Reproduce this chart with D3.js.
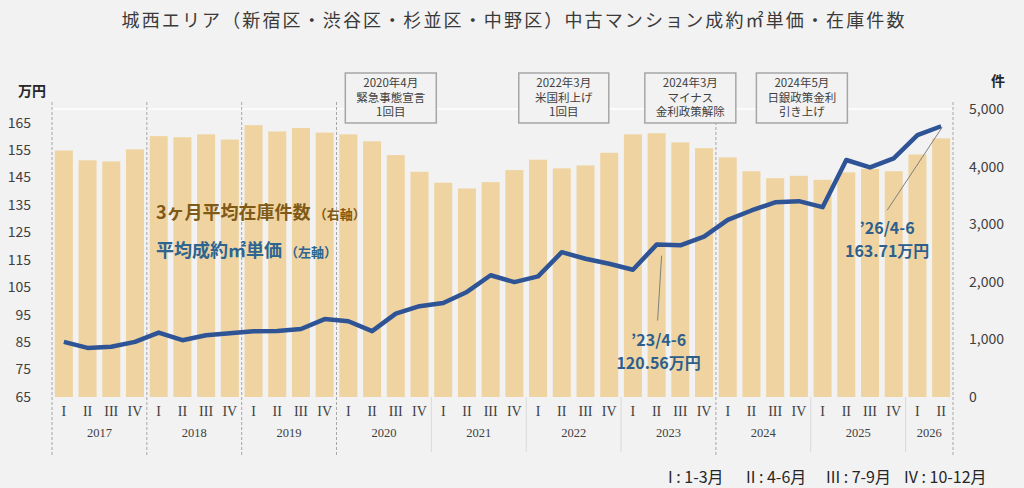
<!DOCTYPE html>
<html>
<head>
<meta charset="utf-8">
<script src="https://cdn.jsdelivr.net/npm/d3@7"></script>
<style>
  body { margin: 0; background: #f2f2f2; }
  text { font-family: "Noto Sans CJK JP", "Noto Sans", sans-serif; fill: #404040; }
  text.serif { font-family: "Liberation Serif", "DejaVu Serif", serif; }
</style>
</head>
<body>
<svg id="chart" width="1024" height="488"></svg>
<script>
// 2017 I ... 2026 II
var years = ["2017", "2018", "2019", "2020", "2021", "2022", "2023", "2024", "2025", "2026"];
var quarterNames = ["I", "II", "III", "IV"];

// 平均成約㎡単価 (万円, left axis)
var price = [85.1, 82.9, 83.3, 85.1, 88.5, 85.7, 87.5, 88.2, 89.0, 89.1,
             89.8, 93.4, 92.6, 89.0, 95.4, 98.1, 99.3, 103.3, 109.4, 106.9,
             109.0, 117.8, 115.4, 113.6, 111.4, 120.56, 120.3, 123.5, 129.6, 133.0,
             136.0, 136.4, 134.2, 151.4, 148.7, 152.0, 160.5, 163.71];

// 3ヶ月平均在庫件数 (件, right axis)
var stock = [4280, 4110, 4090, 4300, 4530, 4510, 4560, 4470, 4720, 4610,
             4670, 4590, 4560, 4440, 4200, 3910, 3720, 3620, 3730, 3940,
             4120, 3970, 4020, 4240, 4560, 4580, 4420, 4320, 4160, 3920,
             3800, 3840, 3770, 3900, 3960, 3920, 4210, 4490];

var leftTicks = [65, 75, 85, 95, 105, 115, 125, 135, 145, 155, 165];
var rightTicks = [0, 1000, 2000, 3000, 4000, 5000];

var eventAnchors = ["2020 III", "2022 II", "2023 III", "2024 IV"];
var eventTexts = [
  ["2020年4月", "緊急事態宣言", "1回目"],
  ["2022年3月", "米国利上げ", "1回目"],
  ["2024年3月", "マイナス", "金利政策解除"],
  ["2024年5月", "日銀政策金利", "引き上げ"]
];

var calloutCats = ["2023 II", "2026 II"];
var calloutTexts = [["’23/4-6", "120.56万円"], ["’26/4-6", "163.71万円"]];

var noteTexts = ["I : 1-3月", "II : 4-6月", "III : 7-9月", "IV : 10-12月"];

var dashedYears = ["2017", "2018", "2019", "2020", "2024"];

var categories = [];
years.forEach(function(y) {
  quarterNames.forEach(function(q) {
    if (categories.length < price.length) categories.push(y + " " + q);
  });
});

var svg = d3.select("#chart");

var x = d3.scaleBand()
  .domain(categories)
  .range([52, 953])
  .paddingInner(0.24)
  .paddingOuter(0.12);

var yL = d3.scaleLinear().domain([65, 170]).range([397, 109]);
var yR = d3.scaleLinear().domain([0, 5000]).range([397, 109]);

var halfGap = x.step() * x.paddingInner() / 2;
function leftEdge(c) { return x(c) - halfGap; }

// title
svg.append("text")
  .attr("x", 513).attr("y", 27)
  .attr("text-anchor", "middle")
  .attr("font-size", "18px")
  .attr("textLength", 783)
  .attr("lengthAdjust", "spacing")
  .style("fill", "#3a3a3a")
  .text("城西エリア（新宿区・渋谷区・杉並区・中野区）中古マンション成約㎡単価・在庫件数");

// top grid line
svg.append("line")
  .attr("x1", 51).attr("x2", 953)
  .attr("y1", yR(5000)).attr("y2", yR(5000))
  .attr("stroke", "white").attr("stroke-width", 1.5);

// bars
svg.append("g").selectAll("rect")
  .data(stock)
  .enter().append("rect")
  .attr("x", function(d, i) { return x(categories[i]); })
  .attr("width", x.bandwidth())
  .attr("y", function(d) { return yR(d); })
  .attr("height", function(d) { return yR(0) - yR(d); })
  .attr("fill", "#efd4a2");

// year dividers
var yearStarts = years.map(function(y) { return y + " I"; });
svg.append("g").selectAll("line")
  .data(yearStarts.slice(1).filter(function(d) { return dashedYears.indexOf(d.split(" ")[0]) < 0; }))
  .enter().append("line")
  .attr("x1", function(d) { return leftEdge(d); })
  .attr("x2", function(d) { return leftEdge(d); })
  .attr("y1", 397).attr("y2", 452)
  .attr("stroke", "#d9d9d9").attr("stroke-width", 1);

var dashX = dashedYears.map(function(y) { return leftEdge(y + " I"); });
dashX.push(x(categories[categories.length - 1]) + x.bandwidth() + halfGap);
svg.append("g").selectAll("line")
  .data(dashX)
  .enter().append("line")
  .attr("x1", function(d) { return d; })
  .attr("x2", function(d) { return d; })
  .attr("y1", 102).attr("y2", 455)
  .attr("stroke", "#a6a6a6")
  .attr("stroke-width", 1)
  .attr("stroke-dasharray", "3,2");

// price line
var line = d3.line()
  .x(function(d, i) { return x(categories[i]) + x.bandwidth() / 2; })
  .y(function(d) { return yL(d); });

svg.append("path")
  .datum(price)
  .attr("d", line)
  .attr("fill", "none")
  .attr("stroke", "#2f5496")
  .attr("stroke-width", 4.5)
  .attr("stroke-linejoin", "round");

// left axis
svg.append("g")
  .selectAll("text")
  .data(leftTicks)
  .enter().append("text")
  .attr("x", 31)
  .attr("y", function(d) { return yL(d); })
  .attr("dy", "0.35em")
  .attr("text-anchor", "end")
  .attr("font-size", "14px")
  .text(function(d) { return d; });

svg.append("text")
  .attr("x", 32).attr("y", 96)
  .attr("text-anchor", "middle")
  .attr("font-size", "14px").attr("font-weight", "bold")
  .style("fill", "#262626")
  .text("万円");

// right axis
svg.append("g")
  .selectAll("text")
  .data(rightTicks)
  .enter().append("text")
  .attr("x", 969)
  .attr("y", function(d) { return yR(d); })
  .attr("dy", "0.35em")
  .attr("font-size", "14px")
  .text(d3.format(","));

svg.append("text")
  .attr("x", 998).attr("y", 86)
  .attr("text-anchor", "middle")
  .attr("font-size", "14px").attr("font-weight", "bold")
  .style("fill", "#262626")
  .text("件");

// category axis
svg.append("g").selectAll("text")
  .data(categories)
  .enter().append("text")
  .attr("class", "serif")
  .attr("x", function(d) { return x(d) + x.bandwidth() / 2; })
  .attr("y", 416)
  .attr("text-anchor", "middle")
  .attr("font-size", "14px")
  .text(function(d) { return d.split(" ")[1]; });

svg.append("g").selectAll("text")
  .data(years)
  .enter().append("text")
  .attr("class", "serif")
  .attr("x", function(y) {
    var cats = categories.filter(function(c) { return c.indexOf(y) === 0; });
    var a = x(cats[0]), b = x(cats[cats.length - 1]) + x.bandwidth();
    return (a + b) / 2;
  })
  .attr("y", 437)
  .attr("text-anchor", "middle")
  .attr("font-size", "12.5px")
  .text(function(d) { return d; });

// event boxes
var boxShift = [-5, 2, 10, 3];
eventTexts.forEach(function(lines, i) {
  var cx = x(eventAnchors[i]) + x.bandwidth() / 2 + boxShift[i];
  var g = svg.append("g");
  var rect = g.append("rect")
    .attr("y", 73).attr("height", 50)
    .attr("fill", "#f2f2f2")
    .attr("stroke", "#a6a6a6")
    .attr("stroke-width", 1.5);
  var maxW = 0;
  lines.forEach(function(t, j) {
    var tx = g.append("text")
      .attr("x", cx).attr("y", 87 + j * 14.5)
      .attr("text-anchor", "middle")
      .attr("font-size", "11.5px")
      .text(t);
    maxW = Math.max(maxW, tx.node().getComputedTextLength());
  });
  var w = Math.max(maxW + 22, 90);
  rect.attr("x", cx - w / 2).attr("width", w);
});

// series labels
var lab1 = svg.append("text").attr("x", 156).attr("y", 219)
  .attr("font-weight", "bold").style("fill", "#7f5a17");
lab1.append("tspan").attr("font-size", "18px").text("3ヶ月平均在庫件数");
lab1.append("tspan").attr("font-size", "13px").attr("dx", 3).text("（右軸）");

var lab2 = svg.append("text").attr("x", 156).attr("y", 257)
  .attr("font-weight", "bold").style("fill", "#2e6490");
lab2.append("tspan").attr("font-size", "18px").text("平均成約㎡単価");
lab2.append("tspan").attr("font-size", "13px").attr("dx", 3).text("（左軸）");

// callouts
var calloutGeo = [
  { lx1: 5, ly1: 11, lx2: 1, ly2: 76, tx: 2, ty: 101 },
  { lx1: 1, ly1: 1, lx2: -54, ly2: 84, tx: -54, ty: 108 }
];
calloutCats.forEach(function(c, i) {
  var idx = categories.indexOf(c);
  var px = x(c) + x.bandwidth() / 2, py = yL(price[idx]);
  var gm = calloutGeo[i];
  svg.append("line")
    .attr("x1", px + gm.lx1).attr("y1", py + gm.ly1)
    .attr("x2", px + gm.lx2).attr("y2", py + gm.ly2)
    .attr("stroke", "#7f7f7f").attr("stroke-width", 1);
  calloutTexts[i].forEach(function(s, j) {
    svg.append("text")
      .attr("x", px + gm.tx)
      .attr("y", py + gm.ty + j * 23)
      .attr("text-anchor", "middle")
      .attr("font-size", "16px").attr("font-weight", "bold")
      .style("fill", "#2e5f8c")
      .text(s);
  });
});

// quarter note
var noteX = [668, 746, 826, 904];
svg.append("g").selectAll("text")
  .data(noteTexts)
  .enter().append("text")
  .attr("x", function(d, i) { return noteX[i]; })
  .attr("y", 483)
  .attr("font-size", "16px")
  .style("fill", "#262626")
  .text(function(d) { return d; });
</script>
</body>
</html>
